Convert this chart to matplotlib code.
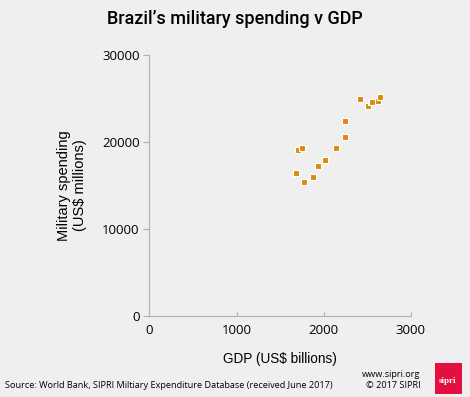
import matplotlib
matplotlib.use("Agg")
import matplotlib.pyplot as plt
from matplotlib.patches import Rectangle

# Brazil: GDP (US$ billions) vs military spending (US$ millions)
gdp = [1680, 1703, 1753, 1772, 1876, 1938, 2014, 2137, 2244, 2244,
       2414, 2506, 2540, 2560, 2629, 2644]
milex = [16430, 19050, 19270, 15400, 15970, 17270, 17890, 19310, 20540, 22420,
         24910, 24140, 24600, 24570, 24720, 25210]

xticks = [0, 1000, 2000, 3000]
yticks = [0, 10000, 20000, 30000]

bg = "#efefef"
axcol = "#b0b0b0"
font = "Open Sans"
lfont = "Liberation Sans"

fig = plt.figure(figsize=(4.7, 3.97), dpi=100, facecolor=bg)
ax = fig.add_axes([0.318, 0.2045, 0.556, 0.657], facecolor=bg)

ax.scatter(gdp, milex, marker="s", s=22, color="#d98a0c",
           edgecolors="white", linewidths=0.8, zorder=3)

ax.set_xlim(0, 3000)
ax.set_ylim(0, 30000)
ax.set_xticks(xticks)
ax.set_yticks(yticks)
ax.set_xticklabels([str(t) for t in xticks], fontfamily=font, fontsize=9.5)
ax.set_yticklabels([str(t) for t in yticks], fontfamily=font, fontsize=9.5)
ax.tick_params(axis="x", direction="in", length=3, color=axcol, pad=6)
ax.tick_params(axis="y", direction="out", length=4, color=axcol, pad=3)

for s in ["top", "right"]:
    ax.spines[s].set_visible(False)
for s in ["left", "bottom"]:
    ax.spines[s].set_color(axcol)
    ax.spines[s].set_linewidth(0.8)

ax.set_xlabel("GDP (US$ billions)", fontfamily=lfont, fontsize=9.8, labelpad=11)
ax.set_ylabel("Military spending\n(US$ millions)", fontfamily=lfont,
              fontsize=10.5, labelpad=11, linespacing=1.2)

fig.text(0.5, 0.952, "Brazil\u2019s military spending v GDP", ha="center",
         va="center", fontsize=13, fontfamily="Roboto", fontweight="medium")

fig.text(0.01, 0.030, "Source: World Bank, SIPRI Miltiary Expenditure Database (received June 2017)",
         ha="left", va="center", fontfamily=font, fontsize=6.6)
fig.text(0.894, 0.056, "www.sipri.org", ha="right", va="center",
         fontfamily=font, fontsize=6.6)
fig.text(0.894, 0.030, "\u00a9 2017 SIPRI", ha="right", va="center",
         fontfamily=font, fontsize=6.6)

fig.patches.append(Rectangle((0.9255, 0.0076), 0.0575, 0.078, transform=fig.transFigure,
                             facecolor="#e3103f", edgecolor="none"))
fig.text(0.953, 0.040, "sipri", ha="center", va="center", color="white",
         fontsize=6.5, fontweight="bold", fontfamily="Liberation Serif")

fig.savefig("out.png", dpi=100, facecolor=bg)
